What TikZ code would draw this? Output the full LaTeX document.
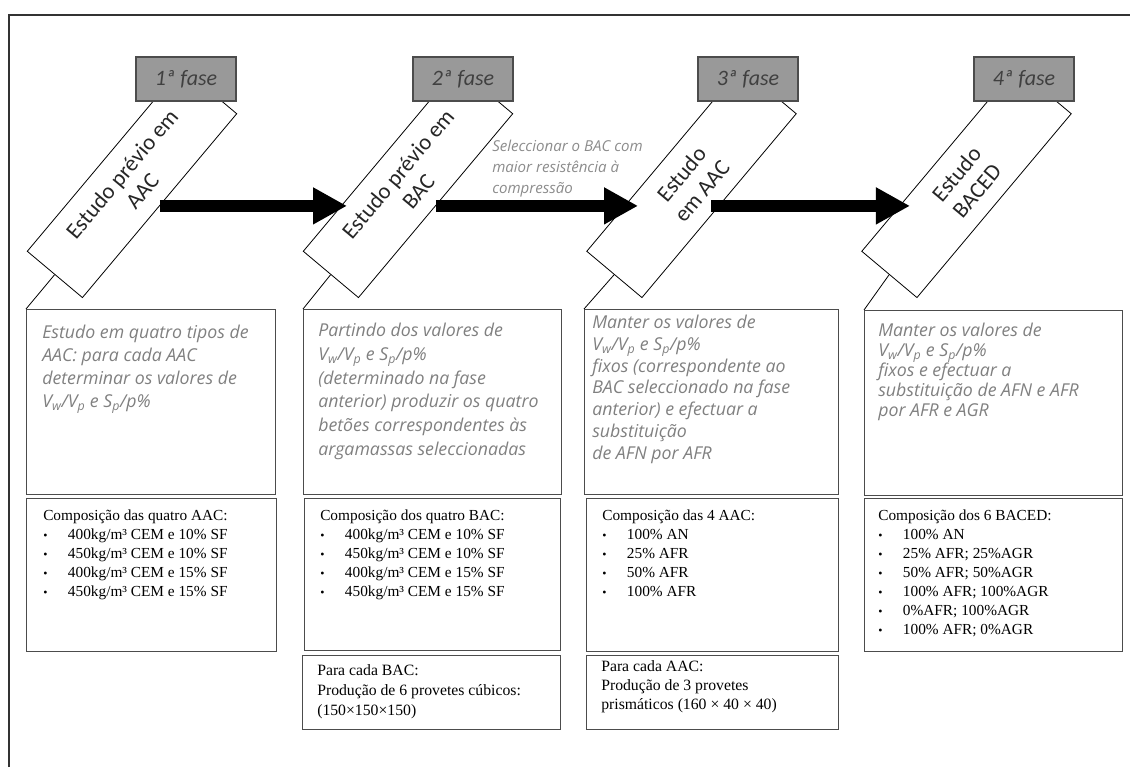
\documentclass[tikz,border=0pt]{standalone}
\usepackage{fontspec}
\setmainfont{Liberation Serif}
\newfontfamily\calfont{Carlito}
\newfontfamily\osfont{Open Sans}
\usetikzlibrary{arrows.meta,calc}
\newcommand\bitem[1]{\makebox[18.5pt][l]{\raisebox{0.3pt}{\small •}}#1}
\begin{document}
\begin{tikzpicture}[x=0.75pt,y=-0.75pt,
  rot/.style={draw, line width=0.6pt, rotate=50, minimum width=180pt, minimum height=54pt,
    inner sep=0pt, align=center, font=\calfont\fontsize{17pt}{20pt}\selectfont, text=black!85},
  fase/.style={draw=black!70, fill=black!40, line width=0.8pt, minimum width=75pt,
    minimum height=33pt, inner sep=0pt, font=\calfont\itshape\fontsize{16.5pt}{18pt}\selectfont, text=black!75},
  ubox/.style={draw=black!70, line width=1pt, inner sep=0pt, anchor=north west, minimum height=138.75pt},
  utext/.style={anchor=north west, inner sep=0pt, align=left, text=black!50},
  lbox/.style={draw=black!70, line width=1pt, inner sep=0pt, anchor=north west},
  ltext/.style={anchor=north west, inner sep=0pt, align=left, font=\fontsize{11.5pt}{14.25pt}\selectfont},
  bigarrow/.style={line width=9pt, -{Triangle[length=25.5pt,width=26pt]}},
  conn/.style={line width=0.6pt}
]
\useasboundingbox (0,0) rectangle (1130,767);
\draw[line width=1.2pt, black!80] (9,767) -- (9,15) -- (1130,15);

% rotated study boxes
\node[rot] (r1) at (132,182.5) {Estudo prévio em\\AAC};
\node[rot] (r2) at (408,182.5) {Estudo prévio em\\BAC};
\node[rot] (r3) at (691.5,182.5) {Estudo\\em AAC};
\node[rot] (r4) at (966.5,182.5) {Estudo\\BACED};

% phase headers
\node[fase] (f1) at (186,79) {1ª fase};
\node[fase] (f2) at (463,79) {2ª fase};
\node[fase] (f3) at (748,79) {3ª fase};
\node[fase] (f4) at (1024,79) {4ª fase};

% arrows
\draw[bigarrow, shorten >=45.75pt] (r1.south) -- (r1.south -| r2.center);
\draw[bigarrow, shorten >=40.1pt] (r2.south) -- (r2.south -| r3.center);
\draw[bigarrow, shorten >=42.4pt, shorten <=-6pt] (r3.south) -- (r3.south -| r4.center);

\node[anchor=north west, inner sep=0pt, align=left, text=black!45,
  font=\osfont\itshape\fontsize{11.3pt}{15.75pt}\selectfont] (sel) at (492,140)
  {Seleccionar o BAC com\\maior resistência à\\compressão};

% upper description boxes
\node[ubox, minimum width=186.75pt] (b1) at (26,309) {};
\node[ubox, minimum width=193.5pt] (b2) at (303,309) {};
\node[ubox, minimum width=190.5pt] (b3) at (584,309) {};
\node[ubox, minimum width=193.5pt] (b4) at (864,310) {};

\draw[conn] (r1.west) -- (b1.north west);
\draw[conn] (r2.west) -- (b2.north west);
\draw[conn] (r3.west) -- (b3.north west);
\draw[conn] (r4.west) -- (b4.north west);

\node[utext, font=\osfont\itshape\fontsize{13.3pt}{17.25pt}\selectfont] (t1) at (42,325)
 {Estudo em quatro tipos de\\AAC: para cada AAC\\determinar os valores de\\V\textsubscript{w}/V\textsubscript{p} e S\textsubscript{p}/p\%};
\node[utext, font=\osfont\itshape\fontsize{13.3pt}{17.8pt}\selectfont] (t2) at (318,323)
 {Partindo dos valores de\\V\textsubscript{w}/V\textsubscript{p} e S\textsubscript{p}/p\%\\(determinado na fase\\anterior) produzir os quatro\\betões correspondentes às\\argamassas seleccionadas};
\node[utext, font=\osfont\itshape\fontsize{13.3pt}{16.3pt}\selectfont] (t3) at (592,315)
 {Manter os valores de\\V\textsubscript{w}/V\textsubscript{p} e S\textsubscript{p}/p\%\\fixos (correspondente ao\\BAC seleccionado na fase\\anterior) e efectuar a\\substituição\\de AFN por AFR};
\node[utext, font=\osfont\itshape\fontsize{13.3pt}{15pt}\selectfont] (t4) at (878,323)
 {Manter os valores de\\V\textsubscript{w}/V\textsubscript{p} e S\textsubscript{p}/p\%\\fixos e efectuar a\\substituição de AFN e AFR\\por AFR e AGR};

% lower composition boxes
\node[lbox, minimum width=187.5pt, minimum height=114.75pt] (c1) at (26,498) {};
\node[lbox, minimum width=192pt, minimum height=114pt] (c2) at (304,498) {};
\node[lbox, minimum width=189pt, minimum height=114.75pt] (c3) at (586,498) {};
\node[lbox, minimum width=193.5pt, minimum height=114.75pt] (c4) at (864,498) {};
\node[lbox, minimum width=193.5pt, minimum height=55.5pt] (d2) at (302,655) {};
\node[lbox, minimum width=189pt, minimum height=55.5pt] (d3) at (586,655) {};

\node[ltext] (l1) at (43,510) {Composição das quatro AAC:\\
 \bitem{400kg/m³ CEM e 10\% SF}\\ \bitem{450kg/m³ CEM e 10\% SF}\\
 \bitem{400kg/m³ CEM e 15\% SF}\\ \bitem{450kg/m³ CEM e 15\% SF}};
\node[ltext] (l2) at (320,510) {Composição dos quatro BAC:\\
 \bitem{400kg/m³ CEM e 10\% SF}\\ \bitem{450kg/m³ CEM e 10\% SF}\\
 \bitem{400kg/m³ CEM e 15\% SF}\\ \bitem{450kg/m³ CEM e 15\% SF}};
\node[ltext] (l3) at (602,510) {Composição das 4 AAC:\\
 \bitem{100\% AN}\\ \bitem{25\% AFR}\\ \bitem{50\% AFR}\\ \bitem{100\% AFR}};
\node[ltext] (l4) at (878,510) {Composição dos 6 BACED:\\
 \bitem{100\% AN}\\ \bitem{25\% AFR; 25\%AGR}\\ \bitem{50\% AFR; 50\%AGR}\\
 \bitem{100\% AFR; 100\%AGR}\\ \bitem{0\%AFR; 100\%AGR}\\ \bitem{100\% AFR; 0\%AGR}};
\node[ltext, font=\fontsize{11.8pt}{15pt}\selectfont] (m2) at (317,664)
 {Para cada BAC:\\Produção de 6 provetes cúbicos:\\(150×150×150)};
\node[ltext, font=\fontsize{11.8pt}{14.25pt}\selectfont] (m3) at (601,660)
 {Para cada AAC:\\Produção de 3 provetes\\prismáticos (160 × 40 × 40)};
\end{tikzpicture}
\end{document}
